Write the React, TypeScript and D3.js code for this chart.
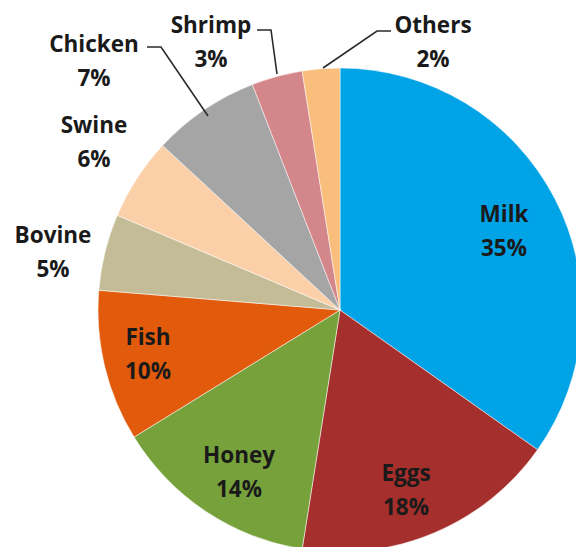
import React from "react";
import * as d3 from "d3";

const categories = ["Milk", "Eggs", "Honey", "Fish", "Bovine", "Swine", "Chicken", "Shrimp", "Others"];
const values = [34.8, 17.7, 13.7, 10.1, 5.1, 5.5, 7.2, 3.4, 2.5];
const pctLabels = ["35%", "18%", "14%", "10%", "5%", "6%", "7%", "3%", "2%"];
const colors = ["#00A3E6", "#A52F2C", "#77A23B", "#E25A0B", "#C4BC96", "#FBD0A9", "#A5A5A5", "#D4878A", "#F9BD7C"];

// label placement (center x, first baseline) per category
const labelPos: [number, number][] = [
  [504, 222], [406, 481], [239, 463], [148, 345], [53, 243], [94, 133], [94, 52], [211, 33], [433, 33],
];
// leader lines for outside labels (index -> points)
const leaders: { idx: number; pts: [number, number][] }[] = [
  { idx: 6, pts: [[147, 47], [161, 47], [208, 116]] },
  { idx: 7, pts: [[257, 30], [271, 30], [277, 74]] },
  { idx: 8, pts: [[391, 31], [377, 31], [323, 68]] },
];

export default function App() {
  const W = 576, H = 547;
  const cx = 340, cy = 310, r = 242;
  const pie = d3.pie<number>().sort(null).value((d) => d)(values);
  const arc = d3.arc<d3.PieArcDatum<number>>().innerRadius(0).outerRadius(r);
  const line = d3.line();
  return (
    <svg width={W} height={H} style={{ position: "absolute", left: 0, top: 0, background: "#fff" }}
      fontFamily="'Open Sans', sans-serif">
      <g transform={`translate(${cx},${cy})`}>
        {pie.map((p, i) => (
          <path key={i} d={arc(p) || ""} fill={colors[i]} stroke="#fff" strokeWidth={0.5} />
        ))}
      </g>
      {leaders.map((l) => (
        <path key={l.idx} d={line(l.pts) || ""} fill="none" stroke="#2a2a2a" strokeWidth={1.6} />
      ))}
      {categories.map((c, i) => (
        <text key={c} x={labelPos[i][0]} y={labelPos[i][1]} textAnchor="middle" fontWeight="bold"
          fontSize={22.5} fill="#1a1a1a">
          <tspan x={labelPos[i][0]}>{c}</tspan>
          <tspan x={labelPos[i][0]} dy={34}>{pctLabels[i]}</tspan>
        </text>
      ))}
    </svg>
  );
}
